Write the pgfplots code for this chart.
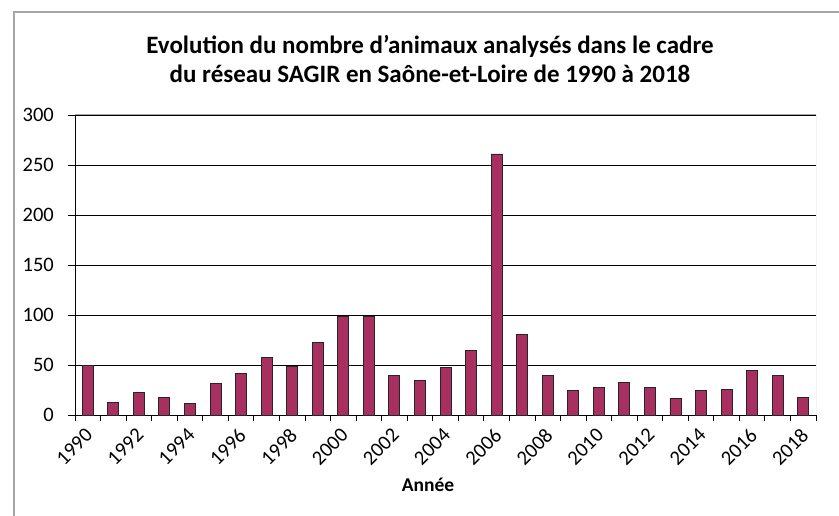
\documentclass[border=0pt]{standalone}
\usepackage{fontspec}
\setmainfont{Carlito}
\usepackage{pgfplots}
\pgfplotsset{compat=1.18}
\definecolor{barc}{RGB}{168,48,96}
\definecolor{framec}{RGB}{165,165,165}
\begin{document}
\begin{tikzpicture}[x=1pt,y=1pt]
\useasboundingbox (0,0) rectangle (839,515);
\draw[framec, line width=1.2pt] (14,-2) -- (14,503) -- (845,503);
\node[font=\bfseries\fontsize{25}{30}\selectfont, anchor=base, inner sep=0pt] at (430,461) {Evolution du nombre d’animaux analysés dans le cadre};
\node[font=\bfseries\fontsize{25}{30}\selectfont, anchor=base, inner sep=0pt] at (430,432) {du réseau SAGIR en Saône-et-Loire de 1990 à 2018};
\begin{axis}[
  at={(75pt,100pt)}, anchor=south west,
  scale only axis, width=741pt, height=300pt,
  xmin=-0.5, xmax=28.5, ymin=0, ymax=300,
  axis lines=left, axis line style={-, black, line width=0.9pt},
  ytick={0,50,...,300},
  xtick={0,2,...,28},
  xticklabels={1990,1992,1994,1996,1998,2000,2002,2004,2006,2008,2010,2012,2014,2016,2018},
  major x tick style={draw=none},
  minor xtick={-0.5,0.5,...,28.5},
  minor tick length=6pt,
  minor x tick style={black, line width=0.8pt},
  tick align=outside,
  major tick length=7pt,
  tick style={black, line width=0.8pt},
  ymajorgrids, grid style={black, line width=0.8pt},
  /pgf/number format/assume math mode=true,
  ticklabel style={font=\fontsize{20.5}{20.5}\selectfont},
  xticklabel style={rotate=45, anchor=north east, inner xsep=6pt, inner ysep=1pt},
  yticklabel style={anchor=east, inner xsep=14pt, inner ysep=1pt},
  ybar, bar width=11pt,
]
\addplot[fill=barc, draw=black!85, line width=0.9pt] coordinates {
(0,50) (1,13) (2,23) (3,18) (4,12) (5,32) (6,42) (7,58) (8,49) (9,73)
(10,99) (11,99) (12,40) (13,35) (14,48) (15,65) (16,261) (17,81) (18,40) (19,25)
(20,28) (21,33) (22,28) (23,17) (24,25) (25,26) (26,45) (27,40) (28,18)
};
\draw[framec, line width=1pt] (rel axis cs:0,1) -- (rel axis cs:1,1) -- (rel axis cs:1,0);
\end{axis}
\node[font=\bfseries\fontsize{19.5}{19.5}\selectfont, anchor=base, inner sep=0pt] at (428,24) {Année};
\end{tikzpicture}
\end{document}
